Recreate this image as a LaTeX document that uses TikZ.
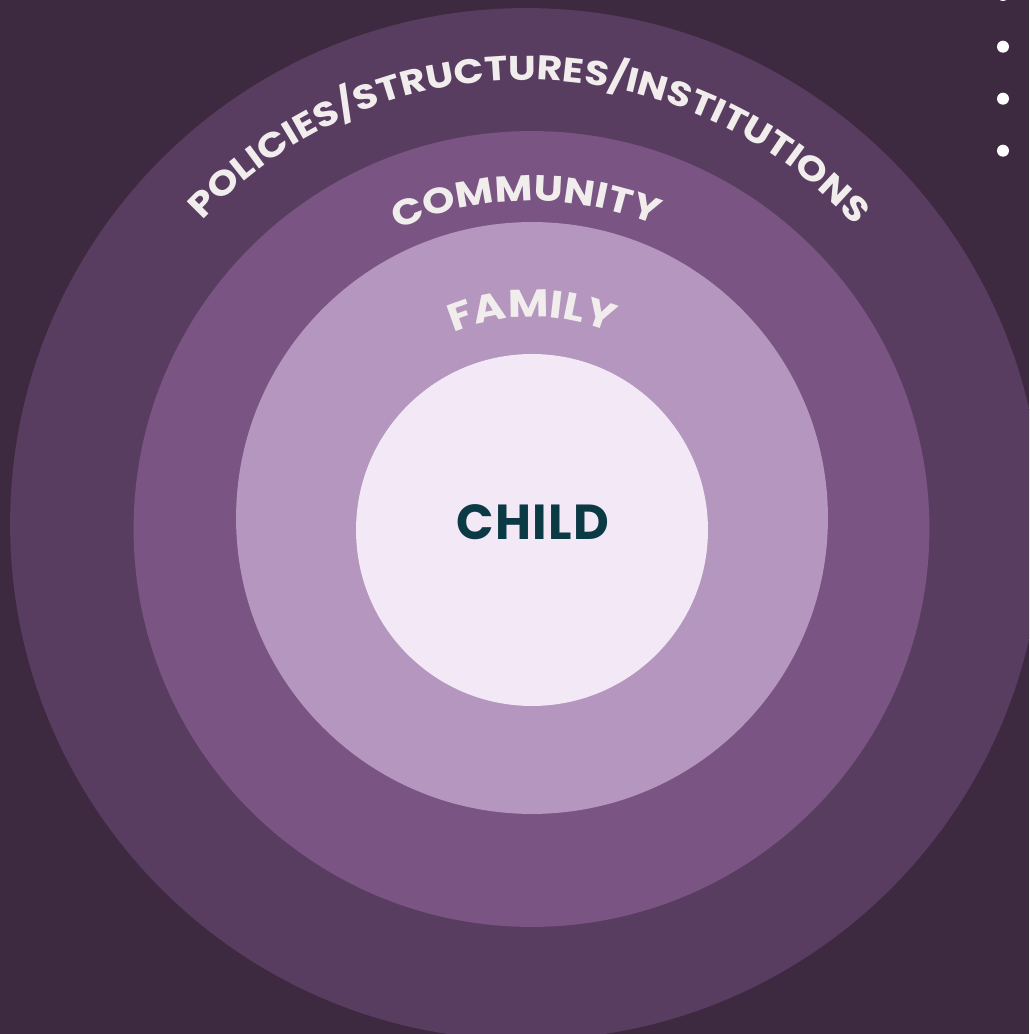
\documentclass[tikz,border=0pt]{standalone}
\usepackage{fontspec}
\setmainfont{Poppins}
\newfontfamily\ringfont{Poppins}[FakeStretch=1.15]
\newfontfamily\childfont{Poppins}[LetterSpace=3.0]
\usetikzlibrary{decorations.text}
\definecolor{bgplum}{HTML}{3E2A40}
\definecolor{policyring}{HTML}{583D61}
\definecolor{communityring}{HTML}{7A5483}
\definecolor{familyring}{HTML}{B496BE}
\definecolor{childdisc}{HTML}{F3E8F5}
\definecolor{ringtext}{HTML}{F1EDED}
\definecolor{childtext}{HTML}{0B3A45}
\begin{document}
\begin{tikzpicture}[x=0.02cm,y=0.02cm]
  \tikzset{ring/.style 2 args={circle,fill=#1,minimum size=#2,inner sep=0pt},
           arc text/.style 2 args={decorate,decoration={text along path,text align=center,
             text={|\color{ringtext}\ringfont\bfseries\fontsize{#1}{#1}\selectfont|#2}}}}

  \fill[bgplum] (0,0) rectangle (1029,1034);
  \useasboundingbox (0,0) rectangle (1029,1034);
  \clip (0,0) rectangle (1029,1034);

  \node [ring={policyring}{20.64cm}] (policies) at (526,510) {};
  \node [ring={communityring}{15.92cm}] (community) at (531.5,505) {};
  \node [ring={familyring}{11.84cm}] (family) at (532,516) {};
  \node [ring={childdisc}{7.04cm}] (child) at (532,504) {};

  \path [arc text={19.5}{POLICIES/STRUCTURES/INSTITUTIONS}] (policies.center) ++(175:444) arc [start angle=175,end angle=4,radius=444];
  \path [arc text={20.5}{COMMUNITY}] (community.center) ++(161:328) arc [start angle=161,end angle=21,radius=328];
  \path [arc text={22}{FAMILY}] (family.center) ++(150:201) arc [start angle=150,end angle=30,radius=201];

  \node [text=childtext,font=\childfont\bfseries\fontsize{28}{28}\selectfont] (childlabel) at (533,512) {CHILD};

  % bullets, top right
  \foreach \y in {1039,987.3,935.3,883.3}
    \fill [white] (1003,\y) circle [radius=6];
\end{tikzpicture}
\end{document}
